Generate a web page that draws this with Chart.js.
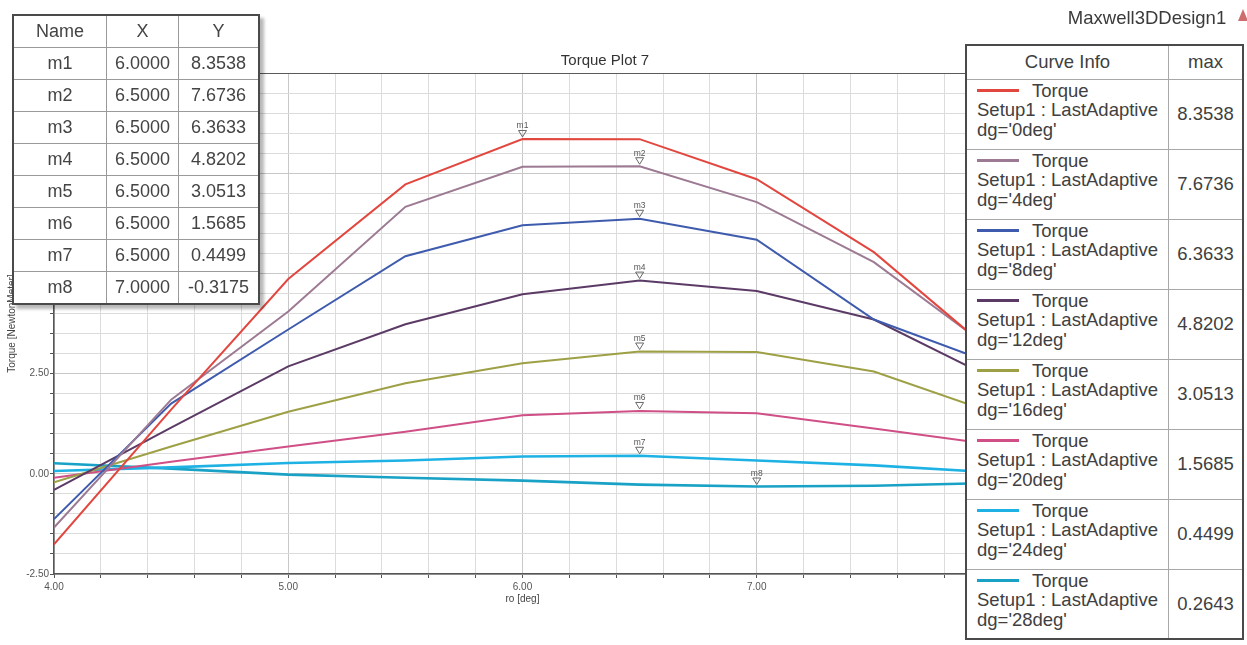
<!DOCTYPE html>
<html>
<head>
<meta charset="utf-8">
<title>Torque Plot 7</title>
<script src="https://cdn.jsdelivr.net/npm/chart.js@4.4.1/dist/chart.umd.min.js"></script>
<style>
  html, body { margin: 0; padding: 0; background: #fff; }
  #wrap { position: relative; width: 1247px; height: 645px; overflow: hidden;
          font-family: "Liberation Sans", Arial, sans-serif; color: #444; }
  #plot { position: absolute; left: 0; top: 0; }
  #plotTitle { position: absolute; left: 455px; top: 50px; width: 300px; text-align: center;
               font-size: 15px; line-height: 19px; color: #333; }
  #design { position: absolute; left: 1040px; top: 6px; width: 214px; text-align: center;
            font-size: 18.5px; line-height: 24px; color: #3a3a3a; }
  #appIcon { position: absolute; left: 1238px; top: 9px; width: 0; height: 0;
             border-left: 5px solid transparent; border-right: 5px solid transparent;
             border-bottom: 12px solid rgba(190, 60, 60, 0.75); }
  #markerTable { position: absolute; left: 12px; top: 14px; border-collapse: collapse;
                 border: 2px solid #4a4a4a; background: #fff;
                 box-shadow: 4px 4px 3px rgba(0,0,0,0.28); }
  #markerTable th, #markerTable td { border: 1px solid #9a9a9a; height: 31px; padding: 0;
                 text-align: center; font-size: 18px; font-weight: normal; color: #444; }
  #curveInfo { position: absolute; left: 965px; top: 44px; width: 279px;
               border-collapse: collapse; border: 2px solid #4a4a4a; background: #fff; }
  #curveInfo tr.head { height: 34px; }
  #curveInfo tr.row { height: 70px; }
  #curveInfo th, #curveInfo td { border: 1.5px solid #a8a8a8; padding: 0; font-weight: normal;
               font-size: 18.5px; color: #404040; }
  #curveInfo th { text-align: center; }
  #curveInfo td.info { vertical-align: top; padding: 1px 0 0 10px;
               line-height: 19.5px; text-align: left; white-space: nowrap; }
  #curveInfo td.max { text-align: center; }
  .swatch { display: inline-block; width: 42px; height: 3px; vertical-align: middle;
            margin-right: 13px; position: relative; top: -1px; }
</style>
</head>
<body>
<div id="wrap">
  <canvas id="plot" width="1247" height="645"></canvas>
  <div id="plotTitle">Torque Plot 7</div>
  <div id="design">Maxwell3DDesign1</div>
  <div id="appIcon"></div>
  <table id="markerTable"></table>
  <table id="curveInfo"></table>
</div>
<script>
// Rotor position sweep [deg]
const roDeg = [4.0, 4.5, 5.0, 5.5, 6.0, 6.5, 7.0, 7.5, 8.0];

// Torque [NewtonMeter] per skew angle dg
const torque0deg  = [-1.76, 1.60, 4.86, 7.22, 8.3538, 8.35, 7.35, 5.53, 3.06];
const torque4deg  = [-1.34, 1.85, 4.05, 6.66, 7.66, 7.6736, 6.78, 5.28, 3.12];
const torque8deg  = [-1.13, 1.75, 3.60, 5.43, 6.20, 6.3633, 5.84, 3.85, 2.77];
const torque12deg = [-0.40, 1.15, 2.68, 3.73, 4.48, 4.8202, 4.56, 3.85, 2.40];
const torque16deg = [-0.21, 0.68, 1.55, 2.26, 2.76, 3.0513, 3.04, 2.55, 1.54];
const torque20deg = [-0.10, 0.30, 0.68, 1.05, 1.46, 1.5685, 1.51, 1.13, 0.74];
const torque24deg = [0.07, 0.16, 0.27, 0.33, 0.43, 0.4499, 0.33, 0.21, 0.04];
const torque28deg = [0.2643, 0.13, -0.02, -0.10, -0.17, -0.27, -0.3175, -0.30, -0.23];

const angleLabels = ["0deg", "4deg", "8deg", "12deg", "16deg", "20deg", "24deg", "28deg"];
const seriesValues = [torque0deg, torque4deg, torque8deg, torque12deg,
                      torque16deg, torque20deg, torque24deg, torque28deg];
const seriesColors = ["#e2473f", "#9d7a93", "#3f5bad", "#5b3b66",
                      "#9ea046", "#cf4f86", "#1eb2e4", "#19a2c6"];
const seriesWidths = [2, 2, 2, 2, 2, 2, 2.6, 2.6];

// Markers: name, curve index, sample index
const markerNames  = ["m1", "m2", "m3", "m4", "m5", "m6", "m7", "m8"];
const markerSeries = [0, 1, 2, 3, 4, 5, 6, 7];
const markerPoint  = [4, 5, 5, 5, 5, 5, 5, 6];

const FONT = '"Liberation Sans", Arial, sans-serif';
const nearly = (a, b) => Math.abs(a - b) < 1e-9;

// ---- marker table (top left)
(function () {
  const t = document.getElementById('markerTable');
  let html = '<tr><th style="width:92px">Name</th><th style="width:71px">X</th><th style="width:79px">Y</th></tr>';
  markerNames.forEach((n, k) => {
    const s = markerSeries[k], p = markerPoint[k];
    html += '<tr><td>' + n + '</td><td>' + roDeg[p].toFixed(4) + '</td><td>' +
            seriesValues[s][p].toFixed(4) + '</td></tr>';
  });
  t.innerHTML = html;
})();

// ---- curve info table (right)
(function () {
  const t = document.getElementById('curveInfo');
  let html = '<tr class="head"><th style="width:201px">Curve Info</th><th>max</th></tr>';
  seriesValues.forEach((vals, i) => {
    html += '<tr class="row"><td class="info"><span class="swatch" style="background:' + seriesColors[i] +
            '"></span>Torque<br>Setup1 : LastAdaptive<br>dg=\'' + angleLabels[i] + '\'</td>' +
            '<td class="max">' + Math.max(...vals).toFixed(4) + '</td></tr>';
  });
  t.innerHTML = html;
})();

// ---- plot frame (top edge)
const framePlugin = {
  id: 'frame',
  beforeDatasetsDraw(chart) {
    const { ctx, chartArea: a } = chart;
    ctx.save();
    ctx.strokeStyle = '#5a5a5a';
    ctx.lineWidth = 1.2;
    ctx.beginPath();
    ctx.moveTo(a.left, a.top + 0.5);
    ctx.lineTo(a.right, a.top + 0.5);
    ctx.stroke();
    ctx.restore();
  }
};

// ---- marker triangles with names
const markerPlugin = {
  id: 'markers',
  afterDatasetsDraw(chart) {
    const { ctx, scales: { x, y } } = chart;
    ctx.save();
    ctx.strokeStyle = '#666';
    ctx.fillStyle = '#555';
    ctx.lineWidth = 1;
    ctx.font = '8.5px ' + FONT;
    ctx.textAlign = 'center';
    ctx.textBaseline = 'alphabetic';
    markerNames.forEach((n, k) => {
      const p = markerPoint[k];
      const px = x.getPixelForValue(roDeg[p]);
      const py = y.getPixelForValue(seriesValues[markerSeries[k]][p]);
      ctx.beginPath();
      ctx.moveTo(px - 4, py - 8.5);
      ctx.lineTo(px + 4, py - 8.5);
      ctx.lineTo(px, py - 2);
      ctx.closePath();
      ctx.stroke();
      ctx.fillText(n, px, py - 10.5);
    });
    ctx.restore();
  }
};

const gridColor = (c) => {
  const v = c.tick ? c.tick.value : 0;
  const major = c.scale.axis === 'x' ? nearly(v, Math.round(v)) : nearly(v / 2.5, Math.round(v / 2.5));
  return major ? '#c8c8c8' : '#dcdcdc';
};

new Chart(document.getElementById('plot'), {
  type: 'line',
  data: {
    datasets: seriesValues.map((vals, i) => ({
      label: 'Torque dg=' + angleLabels[i],
      data: roDeg.map((r, j) => ({ x: r, y: vals[j] })),
      borderColor: seriesColors[i],
      borderWidth: seriesWidths[i],
      pointRadius: 0,
      tension: 0,
      fill: false
    }))
  },
  options: {
    responsive: false,
    animation: false,
    devicePixelRatio: 1,
    layout: { padding: { left: 0, right: 256, top: 73, bottom: 0 } },
    plugins: {
      legend: { display: false },
      tooltip: { enabled: false },
      title: { display: false }
    },
    scales: {
      x: {
        type: 'linear',
        min: 4, max: 8,
        afterFit: (s) => { s.height = 71; },
        ticks: {
          stepSize: 0.2, autoSkip: false, maxRotation: 0, maxTicksLimit: 100,
          padding: 3, color: '#555', font: { size: 10, family: FONT },
          callback: (v) => nearly(v, Math.round(v)) ? Number(v).toFixed(2) : ''
        },
        grid: { color: gridColor, tickColor: '#555', tickLength: 4, lineWidth: 1 },
        border: { color: '#555', width: 1.5 },
        title: {
          display: true, text: 'ro [deg]', color: '#444',
          font: { size: 10, family: FONT },
          padding: { top: 0, bottom: 40 }
        }
      },
      y: {
        type: 'linear',
        min: -2.5, max: 10,
        afterFit: (s) => { s.width = 54; },
        ticks: {
          stepSize: 0.5, autoSkip: false, maxTicksLimit: 100,
          padding: 1, color: '#555', font: { size: 10, family: FONT },
          callback: (v) => nearly(v / 2.5, Math.round(v / 2.5)) ? Number(v).toFixed(2) : ''
        },
        grid: { color: gridColor, tickColor: '#555', tickLength: 4, lineWidth: 1 },
        border: { color: '#555', width: 1.5 },
        title: {
          display: true, text: 'Torque [NewtonMeter]', color: '#444',
          font: { size: 10, family: FONT },
          padding: { top: 6, bottom: 0 }
        }
      }
    }
  },
  plugins: [framePlugin, markerPlugin]
});
</script>
</body>
</html>
